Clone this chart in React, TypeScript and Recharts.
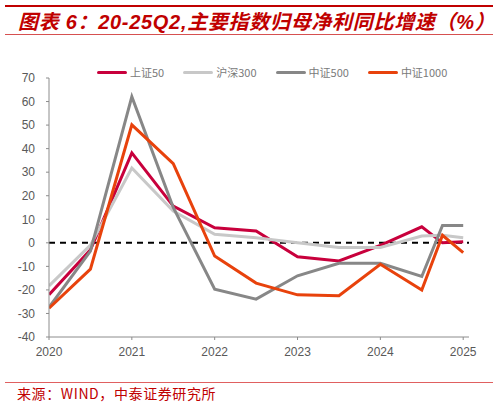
import React from "react";
import { LineChart, Line, XAxis, YAxis, ReferenceLine } from "recharts";

// half-year points, then 25Q1 and 25Q2
const periods = [2020, 2020.5, 2021, 2021.5, 2022, 2022.5, 2023, 2023.5, 2024, 2024.5, 2024.75, 2025];
const sz50 = [-22, -3, 38.2, 15.6, 6.4, 5.0, -5.9, -7.7, -1.1, 6.8, 0, 0.5];
const hs300 = [-18.3, -1, 31.8, 13.5, 3.6, 2.2, 0, -2, -2, 2.9, 3.2, 2.2];
const zz500 = [-27.4, -3.5, 62.1, 15, -19.7, -23.9, -14, -8.7, -8.7, -14.3, 7.4, 7.4];
const zz1000 = [-27.8, -11.2, 50.1, 33.6, -5.6, -17.1, -22.1, -22.5, -9.1, -20, 3.2, -4.2];

const yearTicks = [2020, 2021, 2022, 2023, 2024, 2025];
const yTicks = [-40, -30, -20, -10, 0, 10, 20, 30, 40, 50, 60, 70];

const data = periods.map((p, i) => ({
  p,
  sz50: sz50[i],
  hs300: hs300[i],
  zz500: zz500[i],
  zz1000: zz1000[i],
}));

const series = [
  { key: "sz50", name: "上证50", color: "#C8003C" },
  { key: "hs300", name: "沪深300", color: "#C8C8C8" },
  { key: "zz500", name: "中证500", color: "#878787" },
  { key: "zz1000", name: "中证1000", color: "#E8420C" },
];

const red = "#C00000";
const axisFont = "'Liberation Sans', Arial, sans-serif";

function LegendRow() {
  return (
    <div style={{ display: "flex", position: "absolute", left: 97, top: 64 }}>
      {series.map((s) => (
        <div key={s.key} style={{ display: "flex", alignItems: "center", marginRight: 19 }}>
          <div style={{ width: 30, height: 3, background: s.color, borderRadius: 2 }} />
          <span
            style={{
              marginLeft: 3,
              fontSize: 11,
              color: "#7a7a7a",
              fontFamily: "'Noto Sans CJK SC', sans-serif",
              lineHeight: "16px",
            }}
          >
            {s.name}
          </span>
        </div>
      ))}
    </div>
  );
}

export default function App() {
  return (
    <div
      style={{
        position: "absolute",
        left: 0,
        top: 0,
        width: 498,
        height: 406,
        background: "#fff",
        overflow: "hidden",
      }}
    >
      <div style={{ position: "absolute", left: 5, top: 5, width: 488, height: 2, background: red }} />
      <div
        style={{
          position: "absolute",
          left: 18,
          top: 8,
          fontSize: 20,
          lineHeight: "28px",
          fontWeight: 700,
          fontStyle: "italic",
          letterSpacing: 0.7,
          color: red,
          whiteSpace: "nowrap",
          fontFamily: "'Liberation Sans', 'Noto Sans CJK SC', sans-serif",
        }}
      >
        图表 6：20-25Q2,主要指数归母净利同比增速（%）
      </div>
      <div style={{ position: "absolute", left: 5, top: 34, width: 488, height: 1, background: "#D65050" }} />

      <LegendRow />

      <div style={{ position: "absolute", left: 0, top: 0 }}>
        <LineChart
          width={498}
          height={406}
          data={data}
          margin={{ top: 78, right: 29, left: 0, bottom: 0 }}
        >
          <XAxis
            dataKey="p"
            type="number"
            domain={[2020, 2025.07]}
            ticks={yearTicks}
            allowDataOverflow
            height={69}
            stroke="#8c8c8c"
            tickSize={3}
            tickMargin={7}
            tick={{ fontSize: 12, fill: "#595959", fontFamily: axisFont }}
          />
          <YAxis
            domain={[-40, 70]}
            ticks={yTicks}
            width={49}
            stroke="#8c8c8c"
            tickSize={3}
            tickMargin={11}
            interval={0}
            tick={{ fontSize: 12, fill: "#595959", fontFamily: axisFont }}
          />
          <ReferenceLine y={0} stroke="#000" strokeWidth={2} strokeDasharray="6 5" />
          {series.map((s) => (
            <Line
              key={s.key}
              dataKey={s.key}
              name={s.name}
              type="linear"
              stroke={s.color}
              strokeWidth={3}
              dot={false}
              isAnimationActive={false}
            />
          ))}
        </LineChart>
      </div>

      <div style={{ position: "absolute", left: 5, top: 382, width: 488, height: 1, background: "#E06060" }} />
      <div
        style={{
          position: "absolute",
          left: 17,
          top: 384,
          fontSize: 14,
          lineHeight: "18px",
          letterSpacing: 0.6,
          color: red,
          whiteSpace: "nowrap",
          fontFamily: "'Noto Sans CJK SC', sans-serif",
        }}
      >
        来源：WIND，中泰证券研究所
      </div>
    </div>
  );
}
